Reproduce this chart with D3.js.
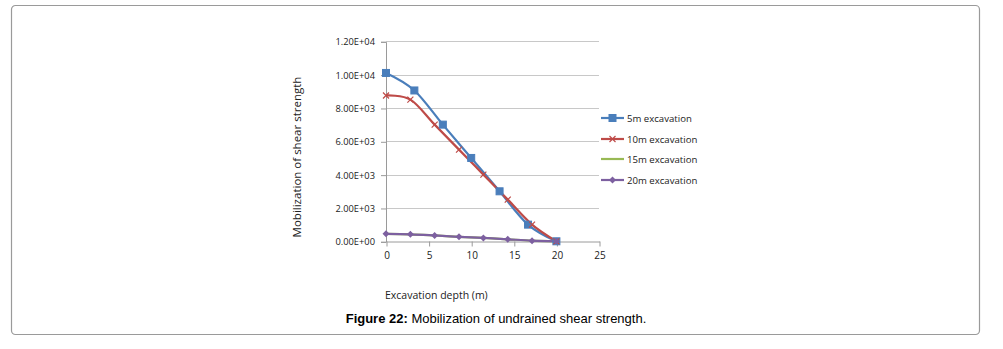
<!DOCTYPE html>
<html><head><meta charset="utf-8">
<script src="https://cdn.jsdelivr.net/npm/d3@7"></script>
<style>
body{margin:0;background:#fff;}
svg{display:block;}
</style></head>
<body>
<svg id="chart" width="1003" height="349"></svg>
<script>
const seriesNames = ["5m excavation", "10m excavation", "15m excavation", "20m excavation"];
const seriesColors = ["#4a7ebb", "#be4b48", "#98b954", "#7d60a0"];
const x5 = [0, 3.33, 6.67, 10, 13.33, 16.67, 20];
const y5 = [10100, 9050, 7000, 5000, 3000, 1000, 0];
const x10 = [0, 2.86, 5.71, 8.57, 11.43, 14.29, 17.14, 20];
const y10 = [8750, 8500, 7000, 5500, 4000, 2500, 1000, 0];
const x15 = [0, 2.86, 5.71, 8.57, 11.43, 14.29, 17.14, 20];
const y15 = [450, 420, 350, 270, 200, 120, 40, 0];
const x20 = [0, 2.86, 5.71, 8.57, 11.43, 14.29, 17.14, 20];
const y20 = [450, 420, 350, 270, 200, 120, 40, 0];
const xTicks = [0, 5, 10, 15, 20, 25];
const yTicks = [0, 2000, 4000, 6000, 8000, 10000, 12000];
const yTickLabels = ["0.00E+00", "2.00E+03", "4.00E+03", "6.00E+03", "8.00E+03", "1.00E+04", "1.20E+04"];

const svg = d3.select("#chart");
const font = "'Open Sans', 'DejaVu Sans', sans-serif";

// outer frame
svg.append("rect").attr("x", 11.5).attr("y", 5.5).attr("width", 968).attr("height", 329)
  .attr("rx", 4).attr("fill", "none").attr("stroke", "#9a9a9a").attr("stroke-width", 1.2);

const x = d3.scaleLinear().domain([0, 25]).range([386, 599]);
const y = d3.scaleLinear().domain([0, 12000]).range([241.3, 41.3]);

// gridlines
svg.append("g").selectAll("line").data(yTicks.filter(d => d > 0)).join("line")
  .attr("x1", x(0)).attr("x2", x(25)).attr("y1", d => Math.round(y(d)) + 0.5).attr("y2", d => Math.round(y(d)) + 0.5)
  .attr("stroke", "#c8c8c8").attr("stroke-width", 1);

// y axis
const yAxis = d3.axisLeft(y).tickValues(yTicks).tickSize(5).tickPadding(6)
  .tickFormat((d, i) => yTickLabels[i]);
const gy = svg.append("g").attr("transform", `translate(${x(0)},0.5)`).call(yAxis);
gy.select(".domain").attr("stroke", "#9a9a9a");
gy.selectAll(".tick line").attr("stroke", "#9a9a9a");
gy.selectAll("text").attr("font-family", font).attr("font-size", 9.3).attr("fill", "#222");

// x axis
const xAxis = d3.axisBottom(x).tickValues(xTicks).tickSize(5).tickPadding(5).tickSizeOuter(0);
const gx = svg.append("g").attr("transform", `translate(0.5,${Math.round(y(0)) + 0.5})`).call(xAxis);
gx.select(".domain").attr("stroke", "#9a9a9a");
gx.selectAll(".tick line").attr("stroke", "#9a9a9a");
gx.selectAll("text").attr("font-family", font).attr("font-size", 10).attr("fill", "#222");

const xs = [x5, x10, x15, x20];
const ys = [y5, y10, y15, y20];
const line = d3.line().x(d => x(d[0])).y(d => y(d[1])).curve(d3.curveCardinal.tension(0));

const plot = svg.append("g");
xs.forEach((xv, i) => {
  const pts = xv.map((v, j) => [v, ys[i][j]]);
  plot.append("path").datum(pts).attr("d", line).attr("fill", "none")
    .attr("stroke", seriesColors[i]).attr("stroke-width", 2.2);
});

function marker(g, type, cx, cy, color) {
  if (type === "square") {
    g.append("rect").attr("x", cx - 3.5).attr("y", cy - 3.5).attr("width", 7).attr("height", 7)
      .attr("fill", color).attr("stroke", color);
  } else if (type === "x") {
    g.append("path").attr("d", `M${cx - 3},${cy - 3}L${cx + 3},${cy + 3}M${cx - 3},${cy + 3}L${cx + 3},${cy - 3}`)
      .attr("stroke", color).attr("stroke-width", 1.2);
  } else if (type === "diamond") {
    g.append("path").attr("d", `M${cx},${cy - 3.5}L${cx + 3.5},${cy}L${cx},${cy + 3.5}L${cx - 3.5},${cy}Z`)
      .attr("fill", color);
  }
}
const markerTypes = ["square", "x", "none", "diamond"];
xs.forEach((xv, i) => {
  xv.forEach((v, j) => marker(plot, markerTypes[i], x(v), y(ys[i][j]), seriesColors[i]));
});

// legend
const legY = [118, 139, 159, 180];
seriesNames.forEach((name, i) => {
  const g = svg.append("g");
  g.append("line").attr("x1", 601).attr("x2", 624).attr("y1", legY[i]).attr("y2", legY[i])
    .attr("stroke", seriesColors[i]).attr("stroke-width", 2.2);
  marker(g, markerTypes[i], 612.5, legY[i], seriesColors[i]);
  g.append("text").attr("x", 627).attr("y", legY[i] + 3.5).text(name)
    .attr("font-family", font).attr("font-size", 9.6).attr("fill", "#222");
});

// axis titles
svg.append("text").attr("transform", "translate(301,157) rotate(-90)").attr("text-anchor", "middle")
  .text("Mobilization of shear strength").attr("font-family", font).attr("font-size", 11.5).attr("fill", "#222");
svg.append("text").attr("x", 385).attr("y", 299).text("Excavation depth (m)")
  .attr("font-family", font).attr("font-size", 10.5).attr("fill", "#222");

// caption
const cap = svg.append("text").attr("x", 496).attr("y", 323).attr("text-anchor", "middle")
  .attr("font-family", "'Liberation Sans', Arial, sans-serif").attr("font-size", 13).attr("fill", "#000");
cap.append("tspan").attr("font-weight", "bold").text("Figure 22:");
cap.append("tspan").text(" Mobilization of undrained shear strength.");
</script>
</body></html>
